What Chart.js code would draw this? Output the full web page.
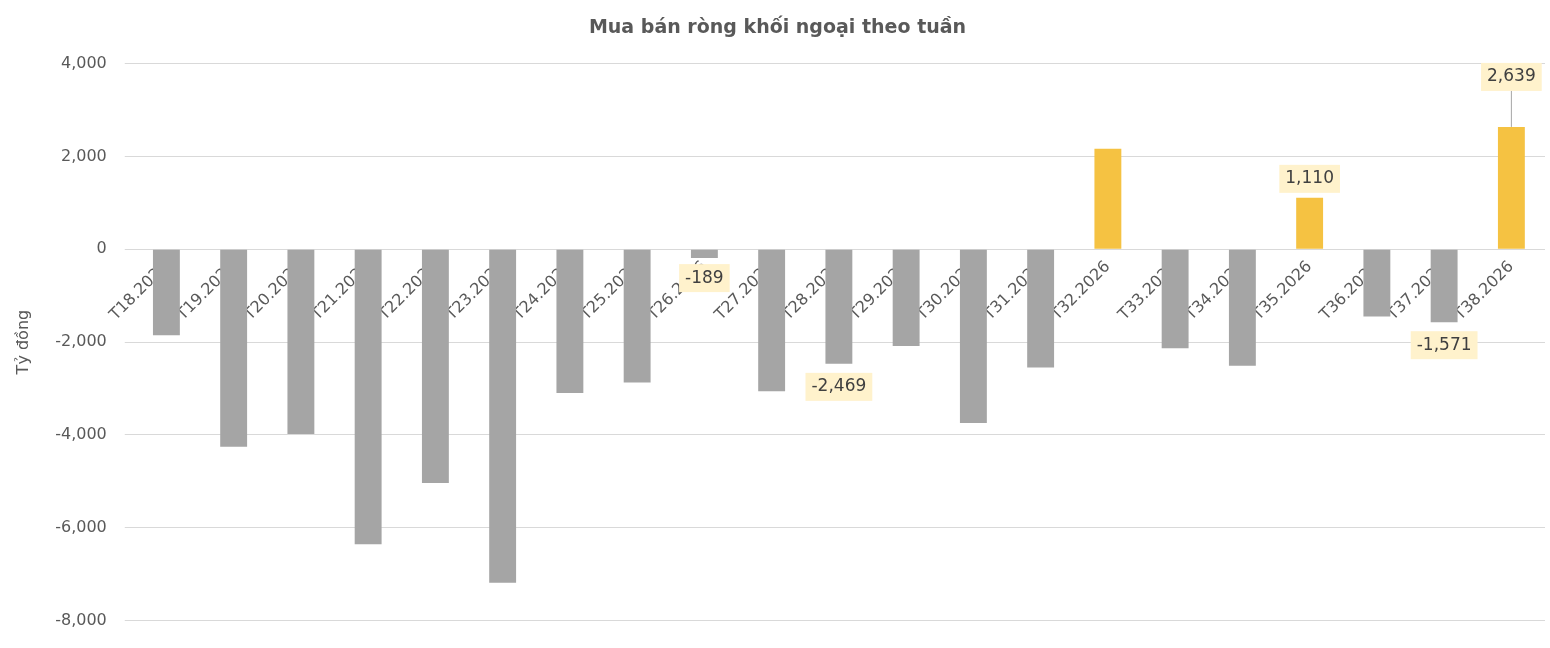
<!DOCTYPE html>
<html><head><meta charset="utf-8">
<script src="https://cdn.jsdelivr.net/npm/chart.js@4"></script>
<style>html,body{margin:0;padding:0;background:#fff}#w{width:1550px;height:648px}</style>
</head><body><div id="w"><canvas id="c"></canvas></div>
<script>
const categories=["T18.2026","T19.2026","T20.2026","T21.2026","T22.2026","T23.2026","T24.2026","T25.2026","T26.2026","T27.2026","T28.2026","T29.2026","T30.2026","T31.2026","T32.2026","T33.2026","T34.2026","T35.2026","T36.2026","T37.2026","T38.2026"];
const values=[-1850,-4255,-3980,-6360,-5040,-7190,-3100,-2870,-189,-3060,-2469,-2085,-3745,-2550,2170,-2130,-2510,1110,-1450,-1571,2639];
const labeledIdx=[8,10,17,19,20];
const yTicks=[-8000,-6000,-4000,-2000,0,2000,4000];
const fmt=v=>v.toLocaleString('en-US');
const labelPlugin={id:'lbl',afterDatasetsDraw(ch){
  const ctx=ch.ctx,meta=ch.getDatasetMeta(0),ys=ch.scales.y;
  ctx.save();ctx.font='17px "DejaVu Sans"';ctx.textAlign='center';ctx.textBaseline='middle';
  labeledIdx.forEach(i=>{
    const b=meta.data[i],v=values[i];let x=b.x,y;
    if(i===20){y=ys.getPixelForValue(v)-50;ctx.strokeStyle='#A6A6A6';ctx.beginPath();ctx.moveTo(x,y+14);ctx.lineTo(x,b.y);ctx.stroke();}
    else if(i===8){y=b.y+20;}
    else if(v>=0){y=b.y-19;}
    else{y=b.y+23;}
    const t=fmt(v),w=ctx.measureText(t).width+12;
    ctx.fillStyle='#FFF2CC';ctx.fillRect(x-w/2,y-14,w,28);
    ctx.fillStyle='#404040';ctx.fillText(t,x,y);
  });ctx.restore();}};
new Chart(document.getElementById('c'),{type:'bar',
 data:{labels:categories,datasets:[{data:values,backgroundColor:values.map(v=>v>=0?'#F5C242':'#A5A5A5'),barPercentage:0.4,categoryPercentage:1}]},
 options:{responsive:true,maintainAspectRatio:false,animation:false,
  layout:{padding:{left:10,right:5,top:5,bottom:15}},
  plugins:{legend:{display:false},tooltip:{enabled:false},
   title:{display:true,text:'Mua bán ròng khối ngoại theo tuần',color:'#595959',font:{family:'DejaVu Sans',size:19,weight:'bold'},padding:{top:12,bottom:24}}},
  scales:{
   x:{position:{y:0},z:1,grid:{display:false},border:{display:false},
      ticks:{minRotation:45,maxRotation:45,color:'#595959',font:{family:'DejaVu Sans',size:16},padding:0}},
   y:{min:-8000,max:4000,afterBuildTicks(a){a.ticks=yTicks.map(v=>({value:v}));},
      grid:{color:'#D9D9D9'},border:{display:false},
      title:{display:true,text:'Tỷ đồng',color:'#595959',font:{family:'DejaVu Sans',size:16}},
      ticks:{color:'#595959',font:{family:'DejaVu Sans',size:16},padding:18,callback:v=>fmt(v)}}}},
 plugins:[labelPlugin]});
</script></body></html>
